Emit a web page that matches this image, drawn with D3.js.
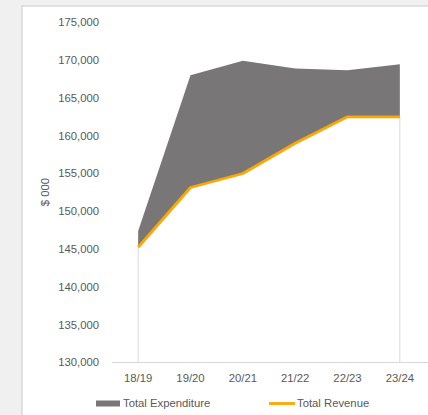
<!DOCTYPE html>
<html>
<head>
<meta charset="utf-8">
<script src="https://cdn.jsdelivr.net/npm/d3@7"></script>
<style>
  body { margin: 0; background: #f0f0f0; }
  svg { display: block; font-family: "Liberation Sans", Arial, sans-serif; }
</style>
</head>
<body>
<div id="chart"></div>
<script>
// chart data
var years = ["18/19", "19/20", "20/21", "21/22", "22/23", "23/24"];
var expenditure = [147400, 168000, 169900, 168900, 168650, 169450];
var revenue = [145250, 153150, 155000, 159000, 162500, 162500];
var yTicks = [130000, 135000, 140000, 145000, 150000, 155000, 160000, 165000, 170000, 175000];

var width = 428, height = 415;
var fs = 11.3;

var svg = d3.select("#chart").append("svg")
    .attr("width", width)
    .attr("height", height);

// white panel
svg.append("rect")
    .attr("x", 22).attr("y", 6)
    .attr("width", width).attr("height", height)
    .attr("fill", "#fff")
    .attr("stroke", "#d9d9d9")
    .attr("stroke-width", 1.5);

var x = d3.scaleBand()
    .domain(years)
    .range([112, 426]);

var y = d3.scaleLinear()
    .domain([130000, 175000])
    .range([362.5, 22.3]);

var cx = function(d) { return x(d) + x.bandwidth() / 2; };

// y axis labels
var fmt = d3.format(",");
svg.append("g").selectAll("text")
    .data(yTicks)
  .enter().append("text")
    .attr("x", 99)
    .attr("y", function(d) { return y(d); })
    .attr("dy", "0.35em")
    .attr("text-anchor", "end")
    .attr("font-size", fs)
    .attr("fill", "#595959")
    .text(function(d) { return fmt(d); });

svg.append("text")
    .attr("transform", "translate(45,192) rotate(-90)")
    .attr("text-anchor", "middle")
    .attr("dy", "0.35em")
    .attr("font-size", fs)
    .attr("fill", "#595959")
    .text("$ 000");

// drop lines at first and last category
var ends = [0, years.length - 1];
svg.append("g").selectAll("line")
    .data(ends)
  .enter().append("line")
    .attr("x1", function(i) { return cx(years[i]); })
    .attr("x2", function(i) { return cx(years[i]); })
    .attr("y1", function(i) { return y(revenue[i]); })
    .attr("y2", y(130000))
    .attr("stroke", "#d9d9d9")
    .attr("stroke-width", 1);

// gap area between revenue and expenditure
var rows = years.map(function(d, i) { return { year: d, exp: expenditure[i], rev: revenue[i] }; });

var area = d3.area()
    .x(function(d) { return cx(d.year); })
    .y0(function(d) { return y(d.rev); })
    .y1(function(d) { return y(d.exp); });

svg.append("path")
    .datum(rows)
    .attr("d", area)
    .attr("fill", "#787677");

// x axis
svg.append("line")
    .attr("x1", 112).attr("x2", 428)
    .attr("y1", y(130000)).attr("y2", y(130000))
    .attr("stroke", "#d9d9d9")
    .attr("stroke-width", 1);

svg.append("g").selectAll("text")
    .data(years)
  .enter().append("text")
    .attr("x", cx)
    .attr("y", 378)
    .attr("dy", "0.35em")
    .attr("text-anchor", "middle")
    .attr("font-size", fs)
    .attr("fill", "#595959")
    .text(function(d) { return d; });

// revenue line
var line = d3.line()
    .x(function(d) { return cx(d.year); })
    .y(function(d) { return y(d.rev); });

svg.append("path")
    .datum(rows)
    .attr("d", line)
    .attr("fill", "none")
    .attr("stroke", "#ffa600")
    .attr("stroke-width", 2.8)
    .attr("stroke-linejoin", "round");

// legend
var legend = svg.append("g").attr("font-size", fs).attr("fill", "#595959");
legend.append("rect")
    .attr("x", 96).attr("y", 400.5)
    .attr("width", 24).attr("height", 6)
    .attr("fill", "#787677");
legend.append("text")
    .attr("x", 123).attr("y", 403.5).attr("dy", "0.35em")
    .text("Total Expenditure");
legend.append("line")
    .attr("x1", 269).attr("x2", 295)
    .attr("y1", 403.5).attr("y2", 403.5)
    .attr("stroke", "#ffa600")
    .attr("stroke-width", 2.8);
legend.append("text")
    .attr("x", 297).attr("y", 403.5).attr("dy", "0.35em")
    .text("Total Revenue");
</script>
</body>
</html>
